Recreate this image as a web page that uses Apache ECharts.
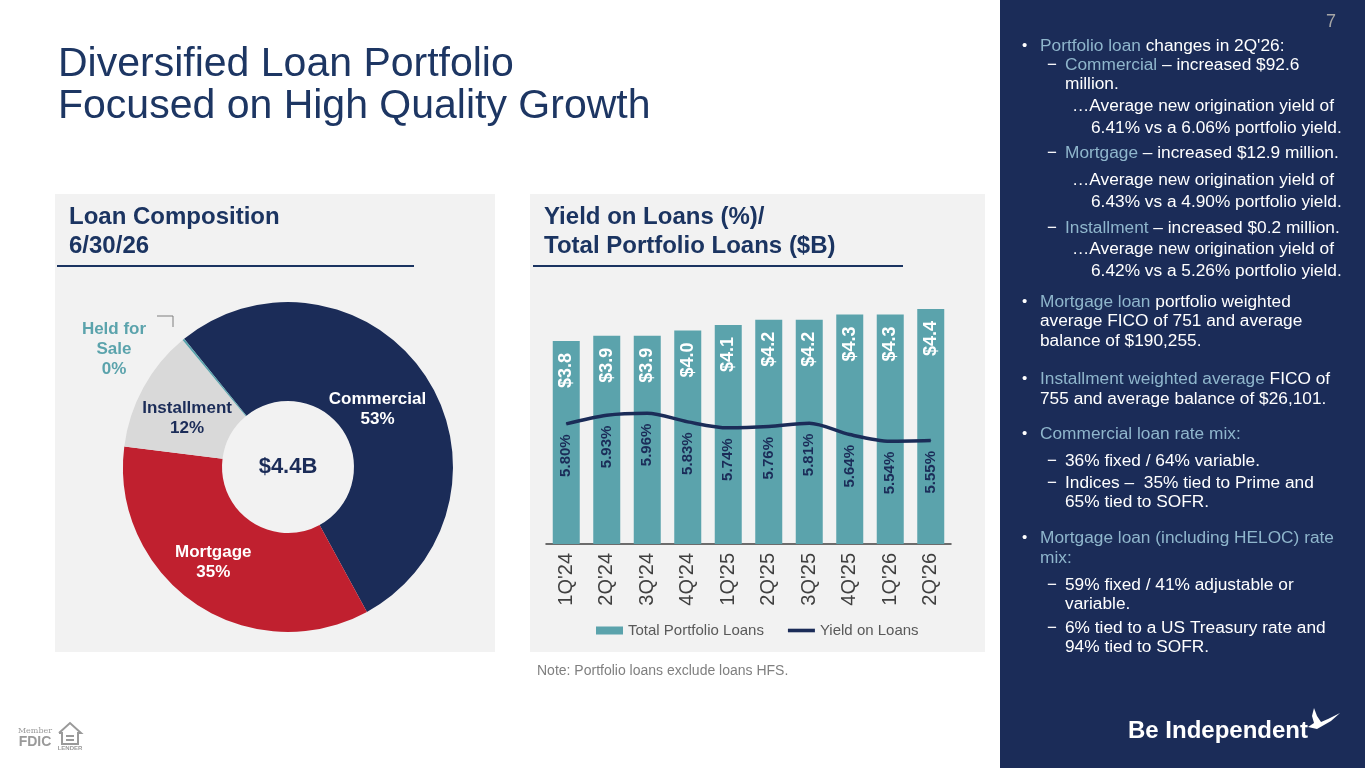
<!DOCTYPE html>
<html>
<head>
<meta charset="utf-8">
<script src="https://cdn.jsdelivr.net/npm/echarts@6/dist/echarts.min.js"></script>
<style>
  html, body { margin: 0; padding: 0; background: #fff; }
  #main { width: 1365px; height: 768px; }
</style>
</head>
<body>
<div id="main"></div>
<script>
// chart data
const quarters = ["1Q'24", "2Q'24", "3Q'24", "4Q'24", "1Q'25", "2Q'25", "3Q'25", "4Q'25", "1Q'26", "2Q'26"];
const portfolioLoans = [3.8, 3.9, 3.9, 4.0, 4.1, 4.2, 4.2, 4.3, 4.3, 4.4];
const loanYield = [5.80, 5.93, 5.96, 5.83, 5.74, 5.76, 5.81, 5.64, 5.54, 5.55];

const segNames = ['Commercial', 'Mortgage', 'Installment', 'Held for\nSale'];
const segShares = [53, 35, 12, 0.2];
const segColors = ['#1b2c58', '#c0202f', '#d9d9d9', '#5ba3ac'];
const segLabelColors = ['#ffffff', '#ffffff', '#1b2c58', '#5ba3ac'];
const totalLoans = '$4.4B';

// sidebar text: [kind, [[text, highlighted], ...]]
const notes = [
  ['b', [['Portfolio loan', 1], [" changes in 2Q'26:", 0]]],
  ['d', [['Commercial', 1], [' \u2013 increased $92.6', 0]]],
  ['dc', [['million.', 0]]],
  ['e', [['\u2026Average new origination yield of', 0]]],
  ['ec', [['6.41% vs a 6.06% portfolio yield.', 0]]],
  ['d', [['Mortgage', 1], [' \u2013 increased $12.9 million.', 0]]],
  ['e', [['\u2026Average new origination yield of', 0]]],
  ['ec', [['6.43% vs a 4.90% portfolio yield.', 0]]],
  ['d', [['Installment', 1], [' \u2013 increased $0.2 million.', 0]]],
  ['e', [['\u2026Average new origination yield of', 0]]],
  ['ec', [['6.42% vs a 5.26% portfolio yield.', 0]]],
  ['b', [['Mortgage loan', 1], [' portfolio weighted', 0]]],
  ['bc', [['average FICO of 751 and average', 0]]],
  ['bc', [['balance of $190,255.', 0]]],
  ['b', [['Installment weighted average', 1], [' FICO of', 0]]],
  ['bc', [['755 and average balance of $26,101.', 0]]],
  ['b', [['Commercial loan rate mix:', 1]]],
  ['d', [['36% fixed / 64% variable.', 0]]],
  ['d', [['Indices \u2013  35% tied to Prime and', 0]]],
  ['dc', [['65% tied to SOFR.', 0]]],
  ['b', [['Mortgage loan (including HELOC) rate', 1]]],
  ['bc', [['mix:', 1]]],
  ['d', [['59% fixed / 41% adjustable or', 0]]],
  ['dc', [['variable.', 0]]],
  ['d', [['6% tied to a US Treasury rate and', 0]]],
  ['dc', [['94% tied to SOFR.', 0]]]
];
const noteY = [46, 65, 84, 106, 128, 153, 180, 202, 228, 249, 271, 302, 321, 341, 379, 399, 434, 461, 483, 502, 538, 558, 585, 604, 628, 647];

const FONT = '"Liberation Sans", Arial, Helvetica, sans-serif';
const NAVY = '#1b2c58';
const TEAL = '#5ba3ac';
const HEAD = '#1b3461';

const indentX = { b: 1040, bc: 1040, d: 1065, dc: 1065, e: 1072, ec: 1091 };

const graphics = [
  { type: 'rect', z: -10, shape: { x: 1000, y: 0, width: 365, height: 768 }, style: { fill: NAVY } },
  { type: 'rect', z: -10, shape: { x: 55, y: 194, width: 440, height: 458 }, style: { fill: '#f2f2f2' } },
  { type: 'rect', z: -10, shape: { x: 530, y: 194, width: 455, height: 458 }, style: { fill: '#f2f2f2' } },
  { type: 'line', shape: { x1: 57, y1: 266, x2: 414, y2: 266 }, style: { stroke: HEAD, lineWidth: 2 } },
  { type: 'line', shape: { x1: 533, y1: 266, x2: 903, y2: 266 }, style: { stroke: HEAD, lineWidth: 2 } },
  { type: 'text', x: 58, y: 65, style: { text: 'Diversified Loan Portfolio', font: '41px ' + FONT, fill: '#1d3663', verticalAlign: 'middle' } },
  { type: 'text', x: 58, y: 107, style: { text: 'Focused on High Quality Growth', font: '41px ' + FONT, fill: '#1d3663', verticalAlign: 'middle' } },
  { type: 'text', x: 69, y: 217, style: { text: 'Loan Composition', font: 'bold 24px ' + FONT, fill: HEAD, verticalAlign: 'middle' } },
  { type: 'text', x: 69, y: 246, style: { text: '6/30/26', font: 'bold 24px ' + FONT, fill: HEAD, verticalAlign: 'middle' } },
  { type: 'text', x: 544, y: 217, style: { text: 'Yield on Loans (%)/', font: 'bold 24px ' + FONT, fill: HEAD, verticalAlign: 'middle' } },
  { type: 'text', x: 544, y: 246, style: { text: 'Total Portfolio Loans ($B)', font: 'bold 24px ' + FONT, fill: HEAD, verticalAlign: 'middle' } },
  { type: 'text', x: 537, y: 671, style: { text: 'Note: Portfolio loans exclude loans HFS.', font: '14px ' + FONT, fill: '#7f7f7f', verticalAlign: 'middle' } },
  { type: 'text', x: 288, y: 467, style: { text: totalLoans, font: 'bold 22px ' + FONT, fill: NAVY, align: 'center', verticalAlign: 'middle' } },
  { type: 'text', x: 1336, y: 22, style: { text: '7', font: '18px ' + FONT, fill: '#a6a6a6', align: 'right', verticalAlign: 'middle' } },
  { type: 'text', x: 1128, y: 731, style: { text: 'Be Independent', font: 'bold 24px ' + FONT, fill: '#ffffff', verticalAlign: 'middle' } },
  { type: 'polygon', shape: { points: [[1308, 727], [1317, 729], [1331, 721], [1340, 713], [1328, 719], [1321, 722], [1317, 716], [1314, 708], [1312, 716], [1314, 723]] }, style: { fill: '#ffffff' } },
  // member FDIC / equal housing marks
  { type: 'text', x: 35, y: 731, style: { text: 'Member', font: '8px "DejaVu Serif", serif', fill: '#9a9a9a', align: 'center', verticalAlign: 'middle' } },
  { type: 'text', x: 35, y: 742, style: { text: 'FDIC', font: 'bold 14px ' + FONT, fill: '#9a9a9a', align: 'center', verticalAlign: 'middle' } },
  { type: 'polyline', shape: { points: [[59, 733], [70, 723], [81, 733], [78, 733], [78, 744], [62, 744], [62, 733], [59, 733]] }, style: { stroke: '#9a9a9a', lineWidth: 2, fill: 'none' } },
  { type: 'rect', shape: { x: 66, y: 735, width: 8, height: 2 }, style: { fill: '#9a9a9a' } },
  { type: 'rect', shape: { x: 66, y: 739, width: 8, height: 2 }, style: { fill: '#9a9a9a' } },
  { type: 'text', x: 70, y: 748, style: { text: 'LENDER', font: 'bold 6px ' + FONT, fill: '#9a9a9a', align: 'center', verticalAlign: 'middle' } }
];

notes.forEach((line, i) => {
  const kind = line[0];
  const y = noteY[i];
  if (kind === 'b') {
    graphics.push({ type: 'text', x: 1022, y: y, style: { text: '\u2022', font: '15px ' + FONT, fill: '#ffffff', verticalAlign: 'middle' } });
  }
  if (kind === 'd') {
    graphics.push({ type: 'text', x: 1047, y: y, style: { text: '\u2212', font: '17px ' + FONT, fill: '#ffffff', verticalAlign: 'middle' } });
  }
  const txt = line[1].map(s => '{' + (s[1] ? 'h' : 'w') + '|' + s[0] + '}').join('');
  graphics.push({
    type: 'text', x: indentX[kind], y: y,
    style: {
      text: txt, verticalAlign: 'middle',
      rich: {
        h: { fontFamily: FONT, fontSize: 17.3, fill: '#8fb6cc' },
        w: { fontFamily: FONT, fontSize: 17.3, fill: '#ffffff' }
      }
    }
  });
});

// nudges for the inside pie labels, to sit where the slide has them
const pieLabelShift = [[-9, 8], [-8, -3], [3, 8]];

const myChart = echarts.init(document.getElementById('main'), null, { renderer: 'canvas' });

const option = {
  backgroundColor: '#ffffff',
  textStyle: { fontFamily: FONT },
  animation: false,
  graphic: graphics,
  legend: {
    left: 591,
    top: 618,
    itemWidth: 27,
    itemHeight: 8,
    itemGap: 24,
    textStyle: { fontSize: 15, color: '#595959', fontFamily: FONT },
    data: [
      { name: 'Total Portfolio Loans', icon: 'rect' },
      { name: 'Yield on Loans', icon: 'path://M0,0H30V4H0Z' }
    ]
  },
  grid: { left: 546, right: 414, top: 277, bottom: 224 },
  xAxis: {
    type: 'category',
    data: quarters,
    axisLine: { lineStyle: { color: '#404040', width: 1.5 } },
    axisTick: { length: 6, lineStyle: { color: '#404040', width: 1.5 } },
    axisLabel: { rotate: 90, interval: 0, fontSize: 20, color: '#404040', margin: 9, fontFamily: FONT }
  },
  yAxis: [
    { type: 'value', min: 0, max: 5, show: false, splitLine: { show: false } },
    { type: 'value', min: 4, max: 8, show: false, splitLine: { show: false } }
  ],
  series: [
    {
      name: 'Total Portfolio Loans',
      type: 'bar',
      data: portfolioLoans,
      barWidth: 27,
      itemStyle: { color: TEAL },
      label: {
        show: true,
        position: 'insideTop',
        rotate: 90,
        align: 'right',
        verticalAlign: 'middle',
        distance: 12,
        color: '#ffffff',
        fontWeight: 'bold',
        fontSize: 18,
        fontFamily: FONT,
        formatter: p => '$' + p.value.toFixed(1)
      }
    },
    {
      name: 'Yield on Loans',
      type: 'line',
      yAxisIndex: 1,
      data: loanYield,
      smooth: 0.3,
      symbol: 'circle',
      symbolSize: 1,
      showSymbol: true,
      z: 5,
      lineStyle: { color: NAVY, width: 3.5 },
      itemStyle: { color: NAVY },
      label: {
        show: true,
        position: 'bottom',
        rotate: 90,
        align: 'right',
        verticalAlign: 'middle',
        distance: 10,
        color: NAVY,
        fontSize: 15,
        fontWeight: 'bold',
        fontFamily: FONT,
        formatter: p => p.value.toFixed(2) + '%'
      }
    },
    {
      name: 'Loan Composition',
      type: 'pie',
      center: [288, 467],
      radius: [66, 165],
      startAngle: 129,
      clockwise: true,
      avoidLabelOverlap: false,
      data: segNames.map((n, i) => ({
        name: n,
        value: segShares[i],
        itemStyle: { color: segColors[i] },
        label: {
          color: segLabelColors[i],
          position: i === 3 ? 'outside' : 'inside'
        },
        labelLine: { show: i === 3, lineStyle: { color: '#7f7f7f', width: 1 } }
      })),
      label: {
        show: true,
        fontSize: 17,
        fontWeight: 'bold',
        lineHeight: 20,
        fontFamily: FONT,
        formatter: p => p.name + '\n' + Math.round(p.value) + '%'
      },
      labelLayout: p => p.dataIndex === 3
        ? { x: 114, y: 349, align: 'center', verticalAlign: 'middle', labelLinePoints: [[157, 316], [173, 316], [173, 327]] }
        : { dx: pieLabelShift[p.dataIndex][0], dy: pieLabelShift[p.dataIndex][1] },
      emphasis: { disabled: true }
    }
  ]
};

myChart.setOption(option);
</script>
</body>
</html>
